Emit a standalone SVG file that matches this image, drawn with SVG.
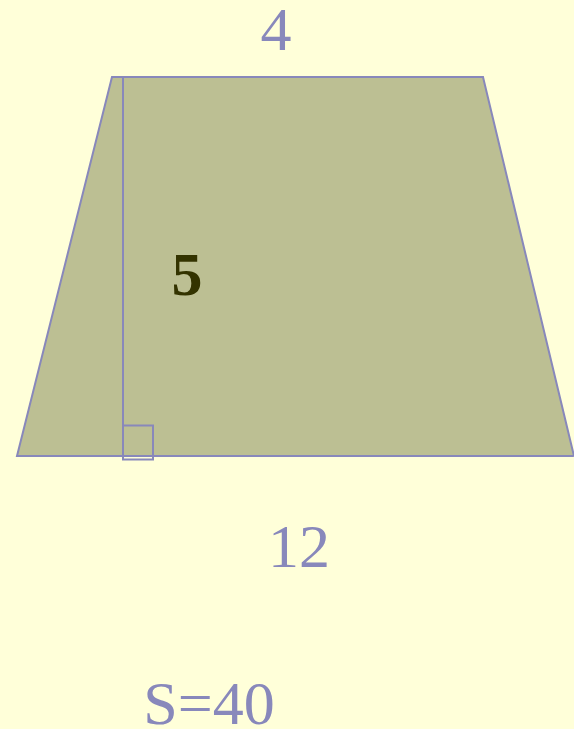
<svg xmlns="http://www.w3.org/2000/svg" width="574" height="729" viewBox="0 0 574 729">
<style>
.lbl{font-family:"Liberation Serif","Times New Roman",serif;fill:#8888bb;text-anchor:middle}
.edge{fill:none;stroke:#8888bb;stroke-width:2}
</style>
<rect width="574" height="729" fill="#ffffd9"/>
<g id="trapezoid">
<polygon points="112,77 483,77 574,456 17,456" fill="#bcbf93" stroke="#8888bb" stroke-width="2"/>
</g>
<g id="connectors">
<line class="edge" x1="123" y1="77" x2="123" y2="456"/>
<rect class="edge" x="123" y="425.5" width="30" height="34"/>
</g>
<g id="labels">
<text class="lbl" x="276" y="50" font-size="62">4</text>
<text x="187" y="295" font-size="62" font-weight="bold" font-family="Liberation Serif,serif" fill="#333300" text-anchor="middle">5</text>
<text class="lbl" x="299" y="567" font-size="62">12</text>
<text class="lbl" x="209" y="724" font-size="62">S=40</text>
</g>
</svg>
